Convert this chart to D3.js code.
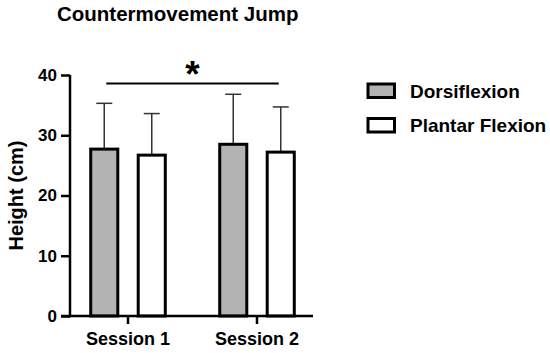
<!DOCTYPE html>
<html>
<head>
<meta charset="utf-8">
<script src="https://cdn.jsdelivr.net/npm/d3@7"></script>
<style>
  body { margin: 0; background: #fff; }
  svg { display: block; font-family: "Liberation Sans", Arial, sans-serif; font-weight: bold; }
  .axis path, .axis line { stroke: #000; stroke-width: 2.5; }
  .axis text { fill: #000; font-weight: bold; }
</style>
</head>
<body>
<div id="chart"></div>
<script>
const sessions = ['Session 1', 'Session 2']
const series = ['Dorsiflexion', 'Plantar Flexion']
const means = {
  'Dorsiflexion': [27.7, 28.5],
  'Plantar Flexion': [26.7, 27.2]
}
const sds = {
  'Dorsiflexion': [7.6, 8.3],
  'Plantar Flexion': [6.9, 7.5]
}
const yTicks = [0, 10, 20, 30, 40]
const colors = { 'Dorsiflexion': '#b3b3b3', 'Plantar Flexion': '#ffffff' }

const w = 550
const h = 353

const svg = d3.select('#chart').append('svg')
  .attr('width', w)
  .attr('height', h)

const x = d3.scaleBand().domain(sessions).range([63.5, 321.5])
const sub = d3.scaleBand().domain(series)
  .range([x.bandwidth() / 2 - 47.5, x.bandwidth() / 2 + 47.5])
  .paddingInner(0.43).paddingOuter(0.215)
const y = d3.scaleLinear().domain([0, 40]).range([316, 75])

const data = []
sessions.forEach((s, i) => series.forEach(k => data.push({ session: s, key: k, mean: means[k][i], sd: sds[k][i] })))

// title
svg.append('text')
  .attr('x', 57).attr('y', 20.5)
  .attr('font-size', 20.5)
  .text('Countermovement Jump')

// y axis
const gy = svg.append('g')
  .attr('class', 'axis')
  .attr('transform', 'translate(70,0)')
  .call(d3.axisLeft(y).tickValues(yTicks).tickSize(9).tickSizeOuter(0).tickPadding(4))
gy.selectAll('text').attr('font-size', 17)
gy.select('.domain').attr('d', 'M0,' + y(40) + 'V' + (y(0) + 1.25))

svg.append('text')
  .attr('transform', 'translate(23,' + (y(20)) + ') rotate(-90)')
  .attr('text-anchor', 'middle')
  .attr('font-size', 20)
  .text('Height (cm)')

// bars
const bars = svg.append('g').selectAll('g')
  .data(data)
  .enter().append('g')
  .attr('transform', d => 'translate(' + (x(d.session) + sub(d.key)) + ',0)')

// error bars behind the bar
bars.append('line')
  .attr('x1', sub.bandwidth() / 2).attr('x2', sub.bandwidth() / 2)
  .attr('y1', d => y(d.mean)).attr('y2', d => y(d.mean + d.sd))
  .attr('stroke', '#333').attr('stroke-width', 1.5)
bars.append('line')
  .attr('x1', sub.bandwidth() / 2 - 8).attr('x2', sub.bandwidth() / 2 + 8)
  .attr('y1', d => y(d.mean + d.sd)).attr('y2', d => y(d.mean + d.sd))
  .attr('stroke', '#333').attr('stroke-width', 1.5)

bars.append('rect')
  .attr('x', 0)
  .attr('y', d => y(d.mean))
  .attr('width', sub.bandwidth())
  .attr('height', d => y(0) - y(d.mean))
  .attr('fill', d => colors[d.key])
  .attr('stroke', '#000')
  .attr('stroke-width', 3)

// x axis
const gx = svg.append('g')
  .attr('class', 'axis')
  .attr('transform', 'translate(0,' + y(0) + ')')
  .call(d3.axisBottom(x).tickSize(8).tickSizeOuter(0).tickPadding(8))
gx.selectAll('text').attr('font-size', 18)
gx.select('.domain').attr('d', 'M61,0H313')

// significance
const x1 = x(sessions[0]) + sub(series[0]) + sub.bandwidth() / 2 + 2
const x2 = x(sessions[1]) + sub(series[1]) + sub.bandwidth() / 2 - 2
svg.append('line')
  .attr('x1', x1).attr('x2', x2)
  .attr('y1', 83.5).attr('y2', 83.5)
  .attr('stroke', '#000').attr('stroke-width', 2.2)
svg.append('text')
  .attr('x', (x1 + x2) / 2).attr('y', 87)
  .attr('text-anchor', 'middle')
  .attr('font-size', 37)
  .text('*')

// legend
const legend = svg.append('g').selectAll('g')
  .data(series)
  .enter().append('g')
  .attr('transform', (d, i) => 'translate(368,' + (84 + i * 34.5) + ')')
legend.append('rect')
  .attr('width', 26.5).attr('height', 13.5)
  .attr('fill', d => colors[d])
  .attr('stroke', '#000').attr('stroke-width', 3)
legend.append('text')
  .attr('x', 42).attr('y', 13.5)
  .attr('font-size', 19)
  .text(d => d)
</script>
</body>
</html>
